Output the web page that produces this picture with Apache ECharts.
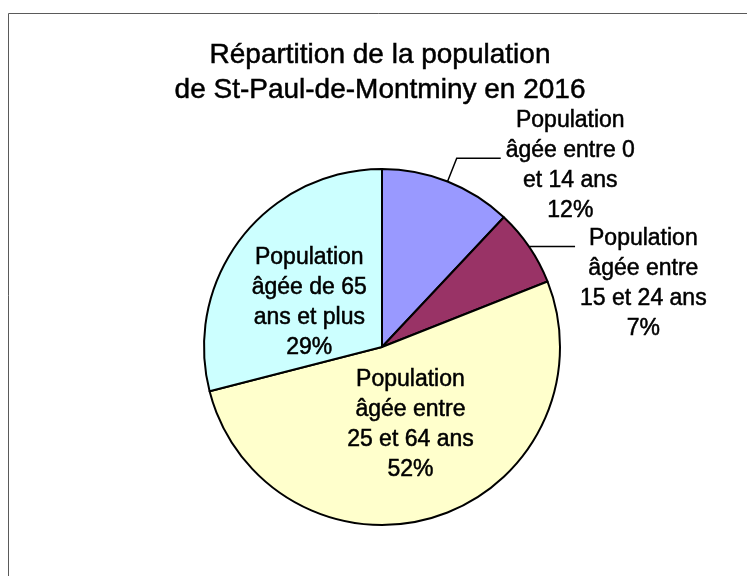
<!DOCTYPE html>
<html>
<head>
<meta charset="utf-8">
<script src="https://cdn.jsdelivr.net/npm/echarts@6/dist/echarts.min.js"></script>
<style>
  html, body { margin: 0; padding: 0; background: #fff; }
  #chart { width: 747px; height: 576px; }
</style>
</head>
<body>
<div id="chart"></div>
<script>
const titleText = 'Répartition de la population\nde St-Paul-de-Montminy en 2016';
const groups = [
  'Population\nâgée entre 0\net 14 ans',
  'Population\nâgée entre\n15 et 24 ans',
  'Population\nâgée entre\n25 et 64 ans',
  'Population\nâgée de 65\nans et plus'
];
const shares = [12, 7, 52, 29];
const colorList = ['#9999FF', '#993366', '#FFFFCC', '#CCFFFF'];

const font = '"Liberation Sans", Arial, sans-serif';

// lignes centrées dans le bloc, même si le bloc est aligné à gauche
const centered = (p) => p.name.split('\n').concat(p.percent.toFixed(0) + '%')
  .map((l) => '{c|' + l + '}').join('\n');

// dedans pour les grosses parts, dehors avec trait de rappel sinon
const labelFor = [
  { position: 'outside', padding: [14, 0, 0, 0] },
  { position: 'outside', padding: [74, 0, 0, 0] },
  { position: 'inside', padding: [0, 0, 20, 0] },
  { position: 'inside', padding: [24, 0, 0, 0] }
];
const lineFor = [
  { length: 25, length2: 44 },
  { length: 1, length2: 45 },
  {},
  {}
];

const txt = { fontFamily: font, color: '#000', textBorderColor: '#000', textBorderWidth: 0.5 };

const chart = echarts.init(document.getElementById('chart'));
chart.setOption({
  color: colorList,
  animation: false,
  title: {
    text: titleText,
    left: 380,
    top: 38,
    padding: 0,
    textAlign: 'center',
    textStyle: Object.assign({ fontSize: 28, fontWeight: 'normal', lineHeight: 35 }, txt)
  },
  graphic: [{
    type: 'rect',
    shape: { x: 8.5, y: 13.5, width: 800, height: 700 },
    style: { fill: null, stroke: '#5a5a5a', lineWidth: 1 },
    silent: true
  }],
  series: [{
    type: 'pie',
    center: [382, 347],
    radius: 178,
    startAngle: 90,
    clockwise: true,
    avoidLabelOverlap: false,
    labelLayout: { hideOverlap: false },
    itemStyle: { borderColor: '#000', borderWidth: 2 },
    label: {
      formatter: centered,
      fontFamily: font,
      fontSize: 23,
      lineHeight: 30,
      color: '#000',
      rich: {
        c: Object.assign({ align: 'center', fontSize: 23, lineHeight: 30 }, txt)
      }
    },
    labelLine: {
      show: true,
      lineStyle: { color: '#000', width: 1.5 }
    },
    data: groups.map((g, i) => ({
      name: g,
      value: shares[i],
      label: labelFor[i],
      labelLine: lineFor[i]
    }))
  }]
});
</script>
</body>
</html>
